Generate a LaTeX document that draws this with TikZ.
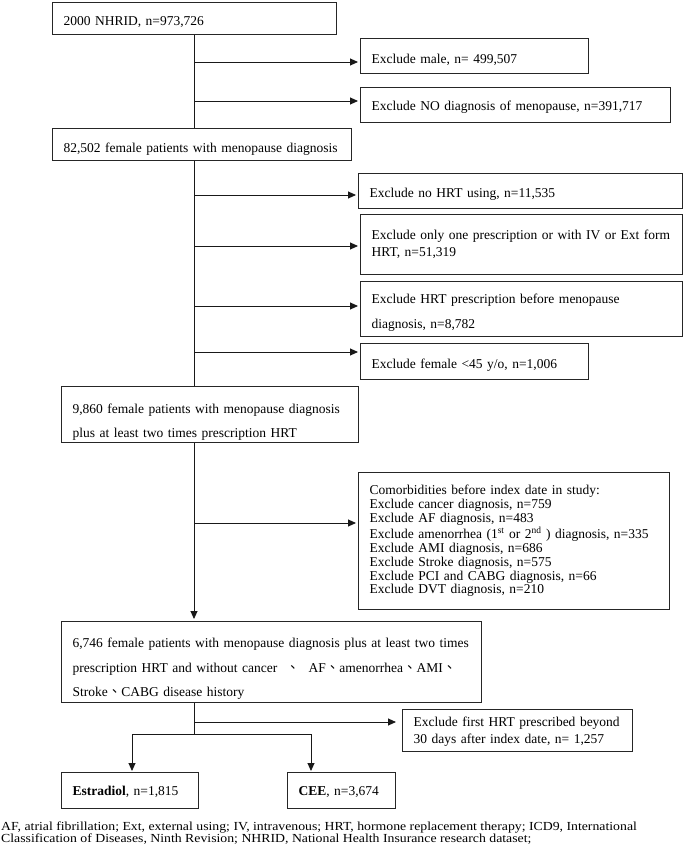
\documentclass[tikz,border=0pt]{standalone}
\usepackage{fontspec}
\setmainfont{Liberation Serif}
\newfontfamily\fnfont{Liberation Serif}[FakeStretch=1.12]
\newfontfamily\cjk{Noto Sans CJK TC}
\usetikzlibrary{arrows.meta}
\newcommand{\dun}{{\cjk 、}}
\newcommand{\sh}[1]{\rule{0pt}{#1pt}}
\hyphenpenalty=10000
\begin{document}
\begin{tikzpicture}[x=1pt,y=-1pt,
  bx/.style={draw=black!85, line width=1.2pt, anchor=north west, rectangle,
    inner xsep=11pt, inner ysep=0pt, align=left,
    font=\fontsize{13.5}{14}\selectfont},
  ln/.style={line width=0.9pt, draw=black!90},
  arr/.style={ln, -{Triangle[length=8pt,width=7pt]}, shorten >=2pt}
]
\useasboundingbox (0,0) rectangle (685,857);

% main boxes
\node[bx, minimum width=284pt, minimum height=32pt, text width=262pt] (b1) at (52,2) {\sh{16.8}2000 NHRID, n=973,726};
\node[bx, minimum width=228pt, minimum height=35pt, text width=206pt] (e1) at (360,38) {\sh{16.8}Exclude male, n= 499,507};
\node[bx, minimum width=310pt, minimum height=35pt, text width=288pt] (e2) at (360,87) {\sh{12.8}Exclude NO diagnosis of menopause, n=391,717};
\node[bx, minimum width=299pt, minimum height=32pt, text width=277pt] (b2) at (52,128) {\sh{17.8}82,502 female patients with menopause diagnosis};
\node[bx, minimum width=324pt, minimum height=35pt, text width=302pt] (e3) at (358,173) {\sh{14.8}Exclude no HRT using, n=11,535};
\node[bx, minimum width=322pt, minimum height=60pt, text width=300pt, font=\fontsize{13.5}{17}\selectfont] (e4) at (360,214) {Exclude only one prescription or with IV or Ext form\\HRT, n=51,319};
\node[bx, minimum width=322pt, minimum height=55pt, text width=300pt, font=\fontsize{13.5}{25}\selectfont] (e5) at (360,281) {\sh{16.2}Exclude HRT prescription before menopause\\diagnosis, n=8,782};
\node[bx, minimum width=228pt, minimum height=36pt, text width=206pt] (e6) at (360,343) {\sh{15.8}Exclude female <45 y/o, n=1,006};
\node[bx, minimum width=297pt, minimum height=56pt, text width=275pt, font=\fontsize{13.5}{24}\selectfont] (b3) at (61,386) {\sh{25.2}9,860 female patients with menopause diagnosis\\plus at least two times prescription HRT};
\node[bx, minimum width=311pt, minimum height=137pt, text width=289pt, font=\fontsize{13.5}{13.9}\selectfont] (e7) at (358,472) {Comorbidities before index date in study:\\
Exclude cancer diagnosis, n=759\\
Exclude AF diagnosis, n=483\\
Exclude amenorrhea (1\textsuperscript{st} or 2\textsuperscript{nd} ) diagnosis, n=335\\
Exclude AMI diagnosis, n=686\\
Exclude Stroke diagnosis, n=575\\
Exclude PCI and CABG diagnosis, n=66\\
Exclude DVT diagnosis, n=210};
\node[bx, minimum width=420pt, minimum height=81pt, text width=398pt, font=\fontsize{13.5}{24.5}\selectfont] (b4) at (61,621) {\sh{23.2}6,746 female patients with menopause diagnosis plus at least two times\\
prescription HRT and without cancer\ \ \dun\ \ AF\dun amenorrhea\dun AMI\dun\\
Stroke\dun CABG disease history};
\node[bx, minimum width=230pt, minimum height=42pt, text width=208pt, font=\fontsize{13.5}{17}\selectfont] (e8) at (402,709) {\sh{12.2}Exclude first HRT prescribed beyond\\30 days after index date, n= 1,257};
\node[bx, minimum width=137pt, minimum height=36pt, text width=115pt] (est) at (61,772) {\sh{11.8}\textbf{Estradiol}, n=1,815};
\node[bx, minimum width=108pt, minimum height=36pt, text width=86pt] (cee) at (287,772) {\sh{11.8}\textbf{CEE}, n=3,674};

% trunk coordinates
\coordinate (t1) at (194,62);
\coordinate (t2) at (194,101);
\coordinate (t3) at (194,195);
\coordinate (t4) at (194,246);
\coordinate (t5) at (194,306);
\coordinate (t6) at (194,352);
\coordinate (t7) at (194,523);
\coordinate (t8) at (194,722);
\coordinate (sp) at (194,734);
\coordinate (sl) at (132,734);
\coordinate (sr) at (311,734);

\draw[ln] (t1 |- b1.south) -- (t1 |- b2.north);
\draw[ln] (t3 |- b2.south) -- (t3 |- b3.north);
\draw[arr] (t7 |- b3.south) -- (t7 |- b4.north);
\draw[ln] (t8 |- b4.south) -- (sp);

\draw[arr] (t1) -- (t1 -| e1.west);
\draw[arr] (t2) -- (t2 -| e2.west);
\draw[arr] (t3) -- (t3 -| e3.west);
\draw[arr] (t4) -- (t4 -| e4.west);
\draw[arr] (t5) -- (t5 -| e5.west);
\draw[arr] (t6) -- (t6 -| e6.west);
\draw[arr] (t7) -- (t7 -| e7.west);
\draw[arr, shorten >=6pt] (t8) -- (t8 -| e8.west);

\draw[ln] (sl) -- (sr);
\draw[arr, shorten >=1pt] (sl) -- (sl |- est.north);
\draw[arr, shorten >=1pt] (sr) -- (sr |- cee.north);

% footnote
\node[anchor=north west, inner sep=0pt, align=left, font=\fnfont\fontsize{12.3}{12}\selectfont] (fn) at (1,822) {AF, atrial fibrillation; Ext, external using; IV, intravenous; HRT, hormone replacement therapy; ICD9, International\\Classification of Diseases, Ninth Revision; NHRID, National Health Insurance research dataset;};
\end{tikzpicture}
\end{document}
